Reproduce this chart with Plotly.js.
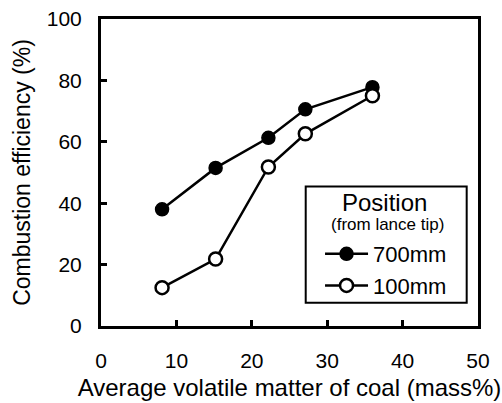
<!DOCTYPE html>
<html>
<head>
<meta charset="utf-8">
<script src="https://cdn.plot.ly/plotly-3.0.1.min.js"></script>
<style>html,body{margin:0;padding:0;background:#fff;}#chart{width:502px;height:403px;}</style>
</head>
<body>
<div id="chart"></div>
<script>
const volatile = [8.1, 15.2, 22.2, 27.1, 36.0];
const eff700 = [38.0, 51.5, 61.3, 70.6, 77.8];
const eff100 = [12.5, 21.8, 51.8, 62.6, 75.0];
const seriesNames = ['700mm', '100mm'];
const legendTitle = 'Position';
const legendSubtitle = '(from lance tip)';
const xTicks = [0, 10, 20, 30, 40, 50];
const yTicks = [0, 20, 40, 60, 80, 100];

const font = 'Liberation Sans, Arial, sans-serif';
const traces = [
  {x: volatile, y: eff700, name: seriesNames[0], mode: 'lines+markers',
   line: {color: '#000', width: 2.5},
   marker: {symbol: 'circle', size: 13, color: '#000', line: {color: '#000', width: 1.5}}},
  {x: volatile, y: eff100, name: seriesNames[1], mode: 'lines+markers',
   line: {color: '#000', width: 2.5},
   marker: {symbol: 'circle', size: 13, color: '#fff', line: {color: '#000', width: 2.5}}}
];
const layout = {
  width: 502, height: 403,
  margin: {l: 101, r: 24, t: 19, b: 77},
  paper_bgcolor: '#fff', plot_bgcolor: '#fff',
  font: {family: font, color: '#000', size: 21},
  showlegend: true,
  legend: {
    x: 0.581, y: 0.303, xanchor: 'left', yanchor: 'top',
    borderwidth: 0, bgcolor: 'rgba(0,0,0,0)',
    font: {size: 22, family: font},
    itemwidth: 43, tracegroupgap: 0
  },
  shapes: [
    {type: 'rect', xref: 'paper', yref: 'paper', x0: 0.543, x1: 0.970, y0: 0.076, y1: 0.454,
     line: {color: '#000', width: 2}, fillcolor: '#fff', layer: 'below'}
  ],
  annotations: [
    {xref: 'paper', yref: 'paper', x: 0.753, y: 0.4007, text: legendTitle, showarrow: false,
     xanchor: 'center', yanchor: 'middle', font: {size: 24, family: font}},
    {xref: 'paper', yref: 'paper', x: 0.761, y: 0.329, text: legendSubtitle, showarrow: false,
     xanchor: 'center', yanchor: 'middle', font: {size: 17, family: font}}
  ],
  xaxis: {
    range: [0, 50], tickvals: xTicks, ticktext: xTicks.map(String),
    ticks: 'inside', ticklen: 6, tickwidth: 3, tickcolor: '#000',
    showline: true, linewidth: 3, linecolor: '#000', mirror: true,
    showgrid: false, zeroline: false,
    ticklabelstandoff: 14,
    tickfont: {size: 21, family: font},
    title: {text: 'Average volatile matter of coal (mass%)', font: {size: 24, family: font}, standoff: 8}
  },
  yaxis: {
    range: [0, 100], tickvals: yTicks, ticktext: yTicks.map(String),
    ticks: 'inside', ticklen: 6, tickwidth: 3, tickcolor: '#000',
    showline: true, linewidth: 3, linecolor: '#000', mirror: true,
    showgrid: false, zeroline: false,
    ticklabelstandoff: 12,
    tickfont: {size: 21, family: font},
    title: {text: 'Combustion efficiency (%)', font: {size: 23, family: font}, standoff: 10}
  }
};
Plotly.newPlot('chart', traces, layout, {displayModeBar: false, staticPlot: true});
</script>
</body>
</html>
